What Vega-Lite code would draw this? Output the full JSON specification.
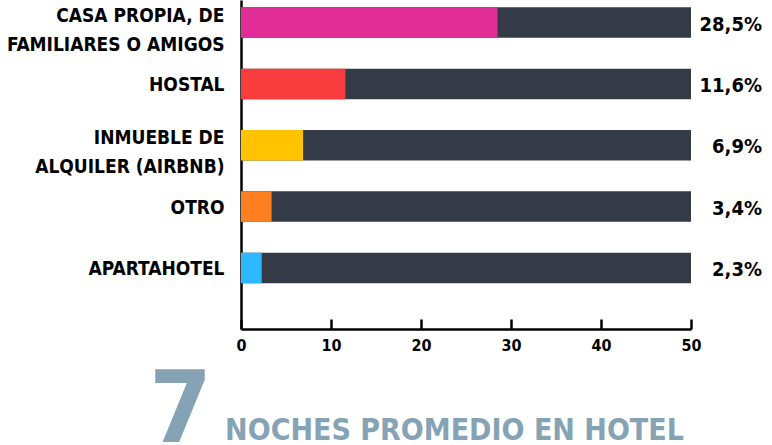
{
  "$schema": "https://vega.github.io/schema/vega-lite/v6.json",
  "autosize": "none",
  "padding": {"left": 241, "top": 0, "right": 81, "bottom": 116},
  "width": 450,
  "height": 329,
  "background": "white",
  "config": {
    "view": {"stroke": null},
    "font": "DejaVu Sans Condensed, sans-serif"
  },
  "data": {
    "values": [
      {"lugar": "CASA PROPIA, DE|FAMILIARES O AMIGOS", "valor": 28.5},
      {"lugar": "HOSTAL", "valor": 11.6},
      {"lugar": "INMUEBLE DE|ALQUILER (AIRBNB)", "valor": 6.9},
      {"lugar": "OTRO", "valor": 3.4},
      {"lugar": "APARTAHOTEL", "valor": 2.3}
    ]
  },
  "transform": [
    {"calculate": "replace(format(datum.valor, '.1f'), '.', ',') + '%'", "as": "etiqueta"}
  ],
  "encoding": {
    "y": {
      "field": "lugar",
      "type": "nominal",
      "sort": null,
      "scale": {"paddingInner": 0.503, "paddingOuter": 0.433, "align": 0.1375},
      "axis": {
        "title": "7",
        "titleFont": "DejaVu Sans Condensed, sans-serif",
        "titleFontWeight": "bold",
        "titleFontSize": 100,
        "titleColor": "#86A3B5",
        "titleAngle": 0,
        "titleAlign": "center",
        "titleBaseline": "alphabetic",
        "titleX": -61,
        "titleY": 441,
        "labelExpr": "split(datum.label, '|')",
        "labelFont": "DejaVu Sans Condensed, sans-serif",
        "labelFontWeight": "bold",
        "labelFontSize": 19,
        "labelLineHeight": 29,
        "labelColor": "#000000",
        "labelPadding": 17,
        "labelOffset": {"condition": {"test": "indexof(datum.value, '|') >= 0", "value": -7}, "value": 1},
        "labelLimit": 300,
        "ticks": false,
        "domainColor": "#000000",
        "domainWidth": 2.5,
        "grid": false
      }
    }
  },
  "layer": [
    {
      "mark": {"type": "bar", "color": "#343A46"},
      "encoding": {
        "x": {
          "datum": 50,
          "type": "quantitative",
          "scale": {"domain": [0, 50], "nice": false},
          "axis": {
            "values": [0, 10, 20, 30, 40, 50],
            "title": "NOCHES PROMEDIO EN HOTEL",
            "titleFont": "DejaVu Sans Condensed, sans-serif",
            "titleFontWeight": "bold",
            "titleFontSize": 30,
            "titleColor": "#86A3B5",
            "titlePadding": 62,
            "titleX": 213,
            "titleAlign": "center",
            "labelFont": "DejaVu Sans Condensed, sans-serif",
            "labelFontWeight": "bold",
            "labelFontSize": 16,
            "labelColor": "#000000",
            "labelPadding": 18,
            "labelFlush": false,
            "tickSize": -10,
            "tickWidth": 2.5,
            "tickColor": "#000000",
            "domainColor": "#000000",
            "domainWidth": 2.5,
            "grid": false
          }
        }
      }
    },
    {
      "mark": {"type": "bar"},
      "encoding": {
        "x": {"field": "valor", "type": "quantitative"},
        "color": {
          "field": "lugar",
          "type": "nominal",
          "scale": {
            "domain": ["CASA PROPIA, DE|FAMILIARES O AMIGOS", "HOSTAL", "INMUEBLE DE|ALQUILER (AIRBNB)", "OTRO", "APARTAHOTEL"],
            "range": ["#E02E96", "#F93D3F", "#FFC300", "#FF7F21", "#2DB7FF"]
          },
          "legend": null
        }
      }
    },
    {
      "mark": {"type": "text", "align": "right", "baseline": "middle", "dx": 71, "dy": 2, "fontSize": 20, "fontWeight": "bold", "color": "#000000"},
      "encoding": {
        "x": {"datum": 50, "type": "quantitative"},
        "text": {"field": "etiqueta"}
      }
    }
  ]
}
